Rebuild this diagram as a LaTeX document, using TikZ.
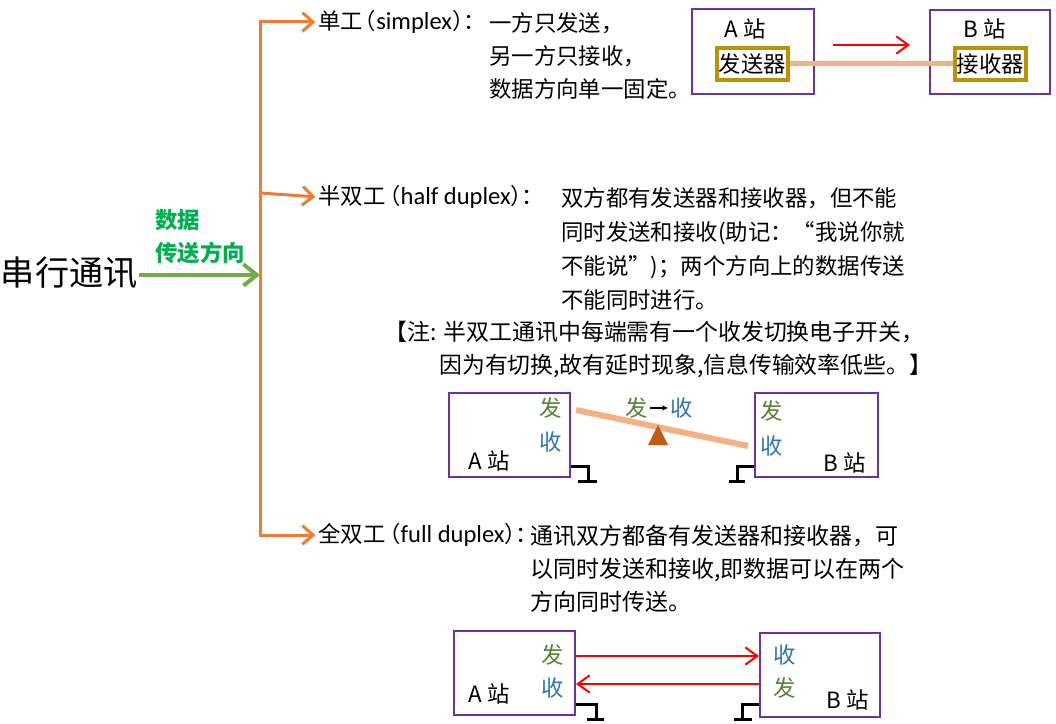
\documentclass[tikz,border=0pt]{standalone}
\usepackage{fontspec}
\setmainfont{Noto Sans CJK SC}
\newfontfamily\latin{Carlito}
\newcommand\halfw[1]{{\addfontfeatures{RawFeature=+halt}#1}}
\newcommand\latword[1]{{\latin\fontsize{18.4}{24.75}\selectfont #1}}
\usetikzlibrary{arrows.meta}
\definecolor{Orange}{HTML}{ED7D31}
\definecolor{LeafGreen}{HTML}{70AD47}
\definecolor{LabelGreen}{HTML}{00B050}
\definecolor{Purple}{HTML}{7030A0}
\definecolor{Gold}{HTML}{BF9000}
\definecolor{Peach}{HTML}{F4B183}
\definecolor{Rust}{HTML}{C55A11}
\definecolor{SendGreen}{HTML}{548235}
\definecolor{RecvBlue}{HTML}{2E75B6}
\definecolor{SignalRed}{HTML}{FF0000}

\begin{document}
\begin{tikzpicture}[x=0.75pt,y=-0.75pt,
  txt/.style={inner sep=0pt,font=\fontsize{16.8}{24.75}\selectfont},
  tag/.style={inner sep=0pt,font=\fontsize{16.8}{24.75}\selectfont\bfseries,LabelGreen},
  branch/.style={Orange,line width=2.25pt,shorten >=2pt,-{Straight Barb[length=8pt,width=14pt]}},
  station/.style={draw=Purple,line width=1.5pt,minimum width=90.75pt,minimum height=63pt,inner sep=0pt},
  unit/.style={draw=Gold,line width=3pt,inner sep=1.5pt,minimum height=24pt},
  signal/.style={SignalRed,line width=1.5pt,-{Straight Barb[length=9pt,width=13pt]}},
  ground/.style={line width=2.25pt},
  send/.style={txt,SendGreen},
  recv/.style={txt,RecvBlue}]
  \useasboundingbox (0,0) rectangle (1056,724);

  % root and data direction
  \node[inner sep=1pt,anchor=east,font=\fontsize{25.6}{30}\selectfont] (serial) at (139,273) {串行通讯};
  \coordinate (hub) at (260,275);
  \draw[LeafGreen,line width=3pt,-{Straight Barb[length=10pt,width=16pt]}] (serial.east |- hub) -- (hub);
  \node[tag,anchor=west] (dataLbl) at (155,220) {数据};
  \node[tag,anchor=west] (dirLbl) at (155,253) {传送方向};

  % orange tree
  \coordinate (b1) at (260,22);
  \coordinate (b2) at (260,193);
  \coordinate (b3) at (260,535);
  \draw[Orange,line width=2.25pt,line cap=rect] (b1) -- (b3);

  % simplex
  \node[txt,anchor=west] (simplex) at (318,22) {单工\hspace{1.5pt}\halfw{（}\latword{simplex}\halfw{）：}};
  \draw[branch] (b1) -- (simplex.west);
  \node[txt,anchor=north west,align=left] (simplexTxt) at (489,12) {一方只发送，\\另一方只接收，\\数据方向单一固定。};
  \node[station,minimum width=91.5pt,minimum height=63.75pt] (sA) at (753,51.5) {};
  \node[station,minimum width=90pt] (sB) at (990,52) {};
  \node[txt] (sAname) at (745,29) {A 站};
  \node[txt] (sBname) at (985,29) {B 站};
  \node[txt,unit] (sTx) at (752.5,64) {发送器};
  \node[txt,unit] (sRx) at (990.5,64) {接收器};
  \draw[Peach,line width=3.75pt] (sTx.east) -- (sRx.west);
  \coordinate (sigL) at (833,45);
  \coordinate (sigR) at (910,45);
  \draw[signal] (sigL) -- (sigR);

  % half duplex
  \node[txt,anchor=west] (half) at (318,197) {半双工\hspace{3pt}\halfw{（}\latword{half duplex}\halfw{）}：};
  \draw[branch] (b2) -- (half.west);
  \node[txt,anchor=north west,align=left,font=\fontsize{16.8}{25.5}\selectfont] (halfTxt) at (561,187)
    {双方都有发送器和接收器，但不能\\同时发送和接收(助记：“我说你就\\不能说”)；两个方向上的数据传送\\不能同时进行。};
  \node[txt,anchor=west,font=\fontsize{17.15}{25}\selectfont] (note1) at (384,332) {【注:\hspace{5.7pt}半双工通讯中每端需有一个收发切换电子开关，};
  \node[txt,anchor=west,font=\fontsize{17.15}{25}\selectfont] (note2) at (439,366) {因为有切换,故有延时现象,信息传输效率低些。】};
  \node[station] (hA) at (509.5,435) {};
  \node[station,minimum width=92.25pt] (hB) at (816.5,435) {};
  \node[send] (hAsend) at (551,408) {发};
  \node[recv] (hArecv) at (551,442) {收};
  \node[txt] (hAname) at (489,461) {A 站};
  \node[send] (hBsend) at (772,411) {发};
  \node[recv] (hBrecv) at (772,446) {收};
  \node[txt] (hBname) at (845,463) {B 站};
  \coordinate (tiltL) at (576,410);
  \coordinate (tiltR) at (748,446);
  \draw[Peach,line width=4.5pt] (tiltL) -- (tiltR);
  \fill[Rust] (658,425) -- (668,445) -- (648,445) -- cycle;
  \node[send] (dirSend) at (637,408) {发};
  \node[recv] (dirRecv) at (682,408) {收};
  \draw[line width=0.8pt,shorten <=1pt,shorten >=2pt,-{Stealth[length=4.5pt,width=4pt]}] (dirSend.east) -- (dirRecv.west);
  \draw[ground] ([yshift=9pt]hA.south east) -| ++(17,15) ++(-10,0) -- ++(19,0);
  \draw[ground] ([yshift=9pt]hB.south west) -| ++(-17,15) ++(-8,0) -- ++(16,0);

  % full duplex
  \node[txt,anchor=west] (full) at (318,535) {全双工\hspace{3pt}\halfw{（}\latword{full duplex}\halfw{）：}};
  \draw[branch] (b3) -- (full.west);
  \node[txt,anchor=north west,align=left,font=\fontsize{17.25}{24.75}\selectfont] (fullTxt) at (530,525)
    {通讯双方都备有发送器和接收器，可\\以同时发送和接收,即数据可以在两个\\方向同时传送。};
  \node[station] (fA) at (514.5,673) {};
  \node[station,minimum width=90pt] (fB) at (820,675) {};
  \node[send] (fAsend) at (553,655) {发};
  \node[recv] (fArecv) at (553,688) {收};
  \node[txt] (fAname) at (489,694) {A 站};
  \node[recv] (fBrecv) at (785,655) {收};
  \node[send] (fBsend) at (785,688) {发};
  \node[txt] (fBname) at (848,700) {B 站};
  \coordinate (fwdL) at ([yshift=12.75pt]fA.east);
  \coordinate (backL) at ([yshift=-8.25pt]fA.east);
  \draw[signal] (fwdL) -- (fwdL -| fB.west);
  \draw[signal] (backL -| fB.west) -- (backL);
  \draw[ground] ([yshift=9pt]fA.south east) -| ++(20,15) ++(-9,0) -- ++(17,0);
  \draw[ground] ([yshift=10.5pt]fB.south west) -| ++(-17,15) ++(-8,0) -- ++(18,0);
\end{tikzpicture}
\end{document}
